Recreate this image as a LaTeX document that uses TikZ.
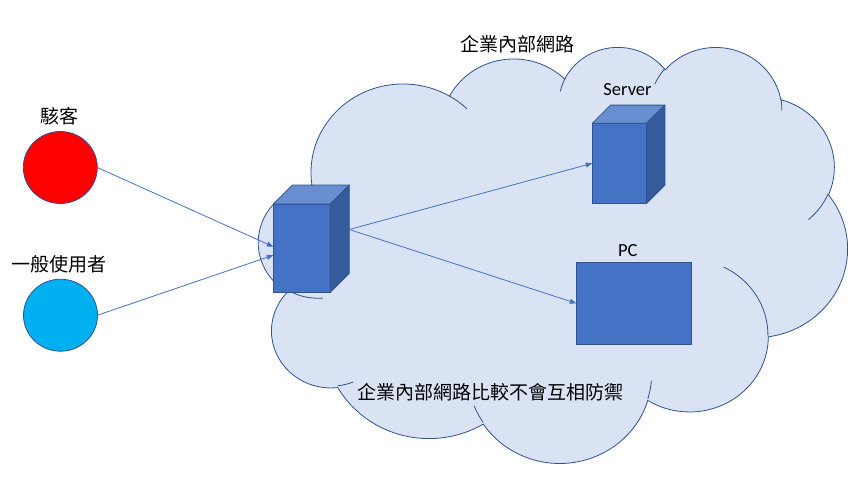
\documentclass[tikz,border=0pt]{standalone}
\usepackage{fontspec}
\setmainfont{Carlito}
\newfontfamily\cjk{Noto Sans CJK TC}
\usetikzlibrary{arrows.meta,calc,shapes.geometric}
\definecolor{cloudfill}{HTML}{DAE3F3}
\definecolor{edgeblue}{HTML}{2F528F}
\definecolor{accent}{HTML}{4472C4}
\definecolor{topface}{HTML}{698ED0}
\definecolor{sideface}{HTML}{365B9D}
\definecolor{cyanfill}{HTML}{00B0F0}
\def\cldsx{0.013623}
\def\cldsy{0.0096296}
% coordinates given in tenths of the 43200 grid
\newcommand\cx[1]{258.7+(#1)*0.13623}
\newcommand\cy[1]{46+(#1)*0.096296}
\begin{document}
\begin{tikzpicture}[x=1pt,y=1pt,yscale=-1,
  cldarc/.style n args={4}{x radius={(#1)*\cldsx}, y radius={(#2)*\cldsy},
     start angle={atan2((#1)*sin(#3),(#2)*cos(#3))},
     delta angle={mod(atan2((#1)*sin((#3)+(#4)),(#2)*cos((#3)+(#4)))-atan2((#1)*sin(#3),(#2)*cos(#3))+720,360)}},
  cloudbody/.style={fill=cloudfill, draw=edgeblue, line width=0.8pt},
  crease/.style={draw=edgeblue, line width=0.8pt},
  face/.style={rectangle, fill=accent, draw=edgeblue, line width=0.8pt, inner sep=0pt, outer sep=0pt},
  topf/.style={fill=topface, draw=edgeblue, line width=0.8pt, line join=round},
  sidef/.style={fill=sideface, draw=edgeblue, line width=0.8pt, line join=round},
  dot/.style={ellipse, draw=edgeblue, line width=0.8pt, minimum width=74pt, minimum height=72pt, inner sep=0pt, outer sep=0pt},
  cjklbl/.style={font=\cjk\fontsize{19}{23}\selectfont, inner sep=0pt, text=black},
  latlbl/.style={font=\fontsize{18.5}{22}\selectfont, inner sep=0pt, text=black},
  conn/.style={draw=accent, line width=0.8pt, -{Triangle[length=6.5pt,width=5pt]}}
]
\useasboundingbox (0,0) rectangle (858,480);
\fill[white] (0,0) rectangle (858,480);

% cloud
\draw[cloudbody] ({\cx{390}},{\cy{1437}})
  arc[cldarc={6753}{9190}{-190.48748}{123.78053}]
  arc[cldarc={5333}{7267}{-144.10238}{89.94523}]
  arc[cldarc={4365}{5945}{-145.80792}{99.72302}]
  arc[cldarc={4857}{6595}{-130.98607}{117.24173}]
  arc[cldarc={5333}{7273}{-78.70888}{109.02692}]
  arc[cldarc={6775}{9220}{-46.26725}{130.269}]
  arc[cldarc={5785}{7867}{0.62502}{114.03333}]
  arc[cldarc={6752}{9215}{22.4516}{115.17255}]
  arc[cldarc={7720}{10543}{66.24263}{75.71102}]
  arc[cldarc={4360}{5918}{-274.94208}{146.73557}]
  arc[cldarc={4345}{5945}{-246.8285}{152.51885}]
  -- cycle;
\draw[crease] ({\cx{469.3}},{\cy{2617.7}}) arc[cldarc={4345}{5945}{86.742}{26.4295}];
\draw[crease] ({\cx{692.8}},{\cy{3489.9}}) arc[cldarc={4360}{5918}{73.61047}{11.44747}];
\draw[crease] ({\cx{1647.8}},{\cy{3909.0}}) arc[cldarc={6752}{9215}{137.62415}{14.0811}];
\draw[crease] ({\cx{2882.7}},{\cy{3475.1}}) arc[cldarc={6752}{9215}{6.45327}{15.99835}];
\draw[crease] ({\cx{3412.9}},{\cy{2295.4}}) arc[cldarc={5785}{7867}{-70.29235}{70.91737}];
\draw[crease] ({\cx{4179.8}},{\cy{1535.4}}) arc[cldarc={5333}{7273}{30.31803}{27.7515}];
\draw[crease] ({\cx{3832.4}},{\cy{542.6}}) arc[cldarc={4857}{6595}{-13.74433}{14.8589}];
\draw[crease] ({\cx{2907.8}},{\cy{395.2}}) arc[cldarc={4857}{6595}{-149.18145}{18.19537}];
\draw[crease] ({\cx{2214.1}},{\cy{472.0}}) arc[cldarc={4365}{5945}{-163.49427}{17.68635}];
\draw[crease] ({\cx{1400.0}},{\cy{519.2}}) arc[cldarc={6753}{9190}{-66.70695}{12.31935}];
\draw[crease] ({\cx{412.7}},{\cy{1578.9}}) arc[cldarc={6753}{9190}{157.65435}{11.85817}];

% texts in cloud
\node[cjklbl] (title) at (517.5,44.5) {企業內部網路};
\node[cjklbl] (note) at (490.8,391.7) {企業內部網路比較不會互相防禦};

% left circles
\node[dot, fill=red] (hacker) at (60.3,167.5) {};
\node[dot, fill=cyanfill] (user) at (60.5,315.2) {};
\node[cjklbl] (hackerlbl) at (59.3,116.5) {駭客};
\node[cjklbl] (userlbl) at (58.8,264.2) {一般使用者};

% switch cube
\node[face, minimum width=57pt, minimum height=88.3pt] (switch) at (301.8,248.2) {};
\draw[topf] (switch.north west) -- ++(19,-19) -- ++(57,0) -- (switch.north east) -- cycle;
\draw[sidef] (switch.north east) -- ++(19,-19) -- ++(0,88.3) -- (switch.south east) -- cycle;

% server cube
\node[face, minimum width=54.4pt, minimum height=80pt] (server) at (619.5,163.3) {};
\draw[topf] (server.north west) -- ++(18.2,-18.2) -- ++(54.4,0) -- (server.north east) -- cycle;
\draw[sidef] (server.north east) -- ++(18.2,-18.2) -- ++(0,80) -- (server.south east) -- cycle;
\node[latlbl, anchor=base] (serverlbl) at (627.5,95) {Server};

% PC
\node[face, minimum width=115.4pt, minimum height=82pt] (pc) at (634,303.3) {};
\node[latlbl, anchor=base] (pclbl) at (627.8,256) {PC};

% connectors
\coordinate (swport) at ($(switch.east)+(19,-18.7)$);
\draw[conn] (hacker.east) -- ($(switch.west)+(0,-1.5)$);
\draw[conn] (user.east) -- ($(switch.west)+(0,7)$);
\draw[conn] (swport) -- (server.west);
\draw[conn] (swport) -- (pc.west);
\end{tikzpicture}
\end{document}
